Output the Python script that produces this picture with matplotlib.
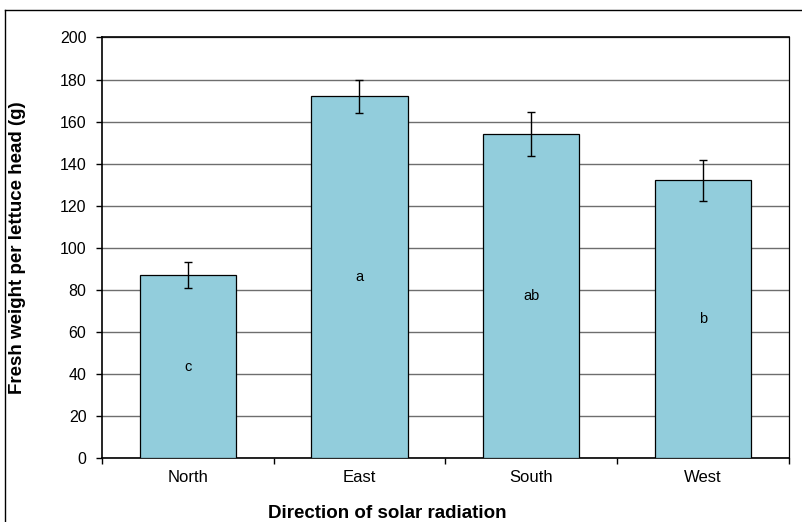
import matplotlib.pyplot as plt
import numpy as np
from matplotlib.lines import Line2D

plt.rcParams['font.family'] = ['Liberation Sans', 'DejaVu Sans']

directions = ["North", "East", "South", "West"]
fresh_weight = [87, 172, 154, 132]
errors = [6, 7.7, 10.5, 9.6]
letters = ["c", "a", "ab", "b"]

fig = plt.figure(figsize=(8.02, 5.22), dpi=100)
ax = fig.add_axes([101.7 / 802, 1 - 458 / 522, (789 - 101.7) / 802, (458 - 37.5) / 522])

x = np.arange(len(directions))
ax.bar(x, fresh_weight, width=0.56, color='#92CDDC', edgecolor='black', linewidth=0.9, zorder=3)
ax.errorbar(x, fresh_weight, yerr=errors, fmt='none', ecolor='black', elinewidth=1,
            capsize=3, capthick=1, zorder=4)
for xi, v, l in zip(x, fresh_weight, letters):
    ax.text(xi, v / 2, l, ha='center', va='center', fontsize=10.5, zorder=5)

ax.set_xlim(-0.5, len(directions) - 0.5)
ax.set_ylim(0, 200)
ax.set_yticks(np.arange(0, 201, 20))
ax.yaxis.grid(True, color='#6e6e6e', linewidth=1, zorder=0)
ax.set_axisbelow(True)

ax.set_xticks(x)
ax.set_xticklabels(directions, fontsize=12)
ax.tick_params(axis='x', length=0, pad=9)
ax.set_xticks(np.arange(-0.5, len(directions)), minor=True)
ax.tick_params(axis='x', which='minor', length=4.5, direction='out', width=1)
ax.tick_params(axis='y', length=4.5, direction='out', width=1, labelsize=11.5, pad=6.5)

for s in ['left', 'bottom', 'top']:
    ax.spines[s].set_linewidth(1.2)
ax.spines['right'].set_linewidth(0.9)

# axis titles placed like the original chart
fig.text(18 / 802, 1 - 248 / 522, "Fresh weight per lettuce head (g)", rotation=90,
         ha='center', va='center', fontsize=13.5, fontweight='bold')
fig.text(387 / 802, 1 - 513 / 522, "Direction of solar radiation",
         ha='center', va='center', fontsize=13.5, fontweight='bold')

# outer chart frame
fig.add_artist(Line2D([5 / 802, 1], [1 - 10 / 522, 1 - 10 / 522], transform=fig.transFigure,
                      color='black', linewidth=1))
fig.add_artist(Line2D([5 / 802, 5 / 802], [0, 1 - 10 / 522], transform=fig.transFigure,
                      color='black', linewidth=1))

fig.savefig("out.png", dpi=100)
